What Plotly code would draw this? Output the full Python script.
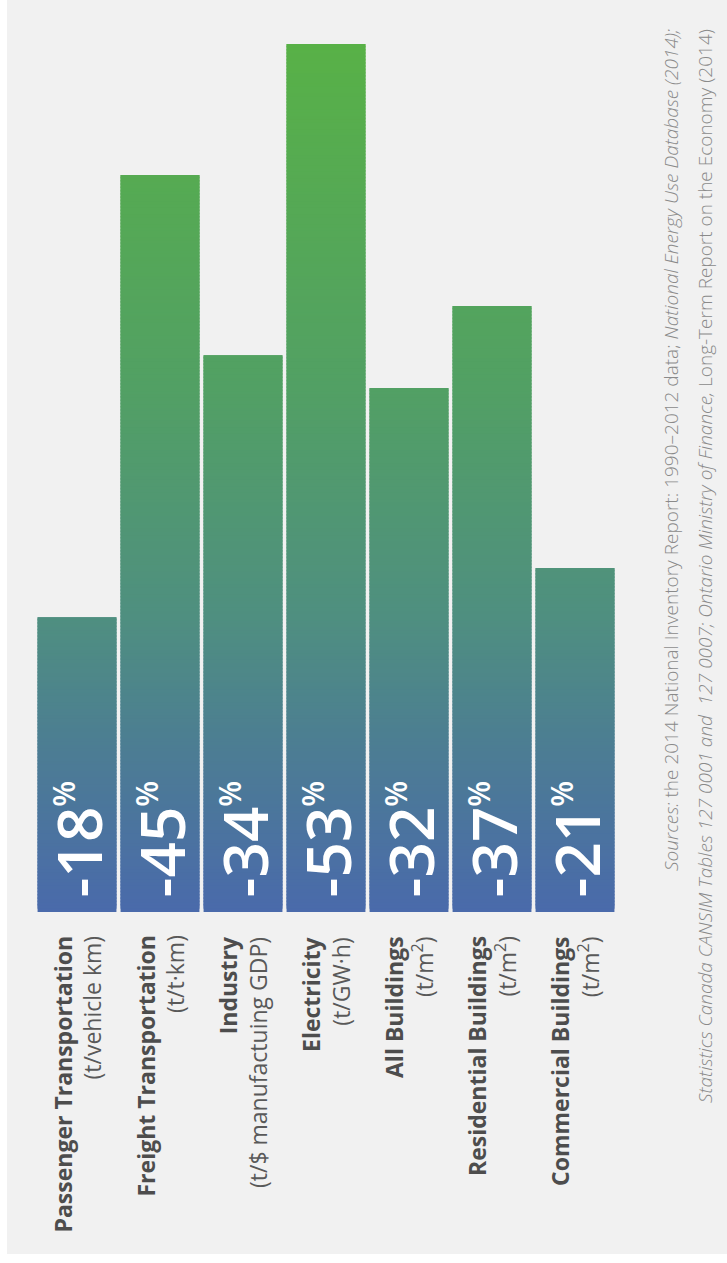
import numpy as np
import plotly.graph_objects as go

# Sector emission-intensity changes, 1990-2012
sectors = [
    "Passenger Transportation", "Freight Transportation", "Industry",
    "Electricity", "All Buildings", "Residential Buildings", "Commercial Buildings",
]
units = [
    "(t/vehicle km)", "(t/t·km)", "(t/$ manufactuing GDP)", "(t/GW·h)",
    "(t/m<sup>2</sup>)", "(t/m<sup>2</sup>)", "(t/m<sup>2</sup>)",
]
change_pct = [-18, -45, -34, -53, -32, -37, -21]

# Vertical colour ramp (value level -> colour), shared by all bars
ramp_levels = [0, 10, 18, 32, 53]
ramp_colors = ["#4a6aab", "#4c7d93", "#4f8f80", "#52a064", "#58b147"]

def hex_rgb(h):
    h = h.lstrip("#")
    return np.array([int(h[i:i + 2], 16) for i in (0, 2, 4)], dtype=float)

ramp_rgb = np.array([hex_rgb(c) for c in ramp_colors])

def ramp(level):
    rgb = [np.interp(level, ramp_levels, ramp_rgb[:, k]) for k in range(3)]
    return "rgb({:.0f},{:.0f},{:.0f})".format(*rgb)

# Build each bar from thin stacked slices so the fill follows the ramp.
# Each slice overlaps the next one so no seams show between them.
step = 0.2
seg_x, seg_base, seg_h, seg_col = [], [], [], []
for i, v in enumerate(change_pct):
    mag = abs(v)
    k = 0
    while k * step < mag:
        lo = k * step
        hi = min(mag, lo + 2.5 * step)
        seg_x.append(i)
        seg_base.append(lo)
        seg_h.append(hi - lo)
        seg_col.append(ramp(lo + step / 2))
        k += 1

fig = go.Figure()
fig.add_trace(go.Bar(
    x=seg_x, y=seg_h, base=seg_base,
    marker=dict(color=seg_col, line=dict(width=0)),
    width=0.95, hoverinfo="skip", showlegend=False,
))

W, H = 727, 1263
PX = lambda px: px / W
PY = lambda py: 1 - py / H

annotations = []
# Percentage labels inside bars
for i, v in enumerate(change_pct):
    annotations.append(dict(
        x=i, y=0, xref="x", yref="y", xanchor="center", yanchor="bottom",
        yshift=12, textangle=-90, showarrow=False,
        text=f"{v}<sup><span style='font-size:30px'>%</span></sup>",
        font=dict(family="Open Sans", size=62, color="white", weight=600),
    ))
# Category labels beneath bars
for i, (s, u) in enumerate(zip(sectors, units)):
    annotations.append(dict(
        x=i, y=0, xref="x", yref="y", xanchor="center", yanchor="top",
        yshift=-22, textangle=-90, showarrow=False, align="right",
        text=f"<b><span style='color:#4d4d4d'>{s}</span></b><br>{u}",
        font=dict(family="Open Sans", size=23, color="#595959"),
    ))
# Source notes
src_font = dict(family="Open Sans", size=19, color="#8a8a8a", weight=300)
annotations.append(dict(
    x=PX(671), y=PY(27), xref="paper", yref="paper", xanchor="center",
    yanchor="top", textangle=-90, showarrow=False,
    text="<i>Sources:</i> the 2014 National Inventory Report: 1990–2012 data; "
         "<i>National Energy Use Database (2014);</i>",
    font=src_font,
))
annotations.append(dict(
    x=PX(705), y=PY(27), xref="paper", yref="paper", xanchor="center",
    yanchor="top", textangle=-90, showarrow=False,
    text="<i>Statistics Canada CANSIM Tables 127 0001 and  127 0007; "
         "Ontario Ministry of Finance,</i> Long-Term Report on the Economy (2014)",
    font=src_font,
))

fig.update_layout(
    width=W, height=H,
    margin=dict(l=0, r=0, t=0, b=0),
    paper_bgcolor="white",
    plot_bgcolor="rgba(0,0,0,0)",
    barmode="overlay",
    xaxis=dict(domain=[PX(35.5), PX(616.5)], range=[-0.5, 6.5],
               visible=False, fixedrange=True),
    yaxis=dict(domain=[PY(912), PY(44)], range=[0, 53],
               visible=False, fixedrange=True),
    shapes=[dict(type="rect", xref="paper", yref="paper", layer="below",
                 x0=PX(7), x1=1, y0=PY(1254), y1=1,
                 fillcolor="#f1f1f1", line=dict(width=0))],
    annotations=annotations,
)

fig.write_html("out.html")
